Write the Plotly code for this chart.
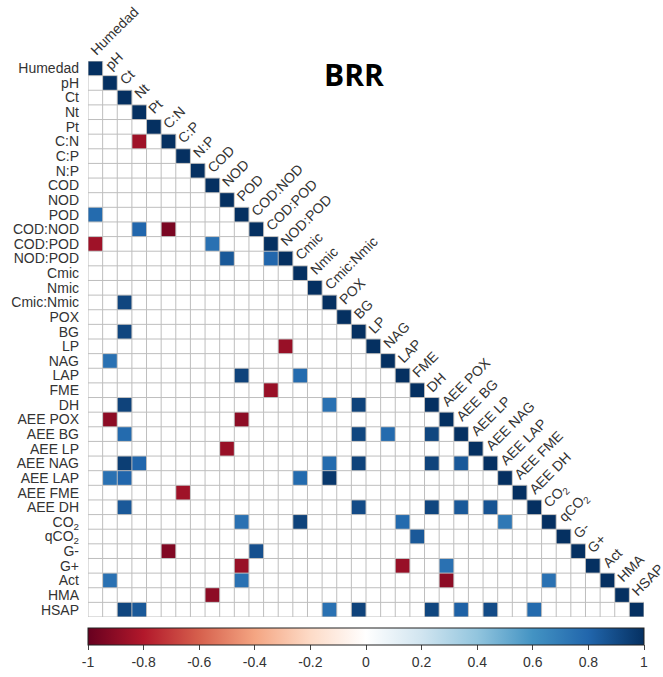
import plotly.graph_objects as go

labels = ["Humedad", "pH", "Ct", "Nt", "Pt", "C:N", "C:P", "N:P", "COD", "NOD", "POD",
          "COD:NOD", "COD:POD", "NOD:POD", "Cmic", "Nmic", "Cmic:Nmic", "POX", "BG", "LP",
          "NAG", "LAP", "FME", "DH", "AEE POX", "AEE BG", "AEE LP", "AEE NAG", "AEE LAP",
          "AEE FME", "AEE DH", "CO<sub>2</sub>", "qCO<sub>2</sub>", "G-", "G+", "Act", "HMA", "HSAP"]

# significant correlations (row variable, column variable, r)
pair_rows = ["C:N", "POD", "COD:NOD", "COD:NOD", "COD:POD", "COD:POD", "NOD:POD", "NOD:POD",
             "Cmic:Nmic", "BG", "LP", "NAG", "LAP", "LAP", "FME", "DH", "DH", "DH",
             "AEE POX", "AEE POX", "AEE BG", "AEE BG", "AEE BG", "AEE BG", "AEE LP",
             "AEE NAG", "AEE NAG", "AEE NAG", "AEE NAG", "AEE NAG", "AEE NAG",
             "AEE LAP", "AEE LAP", "AEE LAP", "AEE LAP", "AEE FME",
             "AEE DH", "AEE DH", "AEE DH", "AEE DH", "AEE DH",
             "CO<sub>2</sub>", "CO<sub>2</sub>", "CO<sub>2</sub>", "CO<sub>2</sub>",
             "qCO<sub>2</sub>", "G-", "G-", "G+", "G+", "G+",
             "Act", "Act", "Act", "Act", "HMA",
             "HSAP", "HSAP", "HSAP", "HSAP", "HSAP", "HSAP", "HSAP", "HSAP"]
pair_cols = ["Nt", "Humedad", "Nt", "C:N", "Humedad", "COD", "NOD", "COD:POD",
             "Ct", "Ct", "NOD:POD", "pH", "POD", "Cmic", "COD:POD", "Ct", "Cmic:Nmic", "BG",
             "pH", "POD", "Ct", "BG", "NAG", "DH", "NOD",
             "Ct", "Nt", "Cmic:Nmic", "BG", "DH", "AEE BG",
             "pH", "Ct", "Cmic", "Cmic:Nmic", "C:P",
             "Ct", "BG", "DH", "AEE BG", "AEE NAG",
             "POD", "Cmic", "LAP", "AEE LAP",
             "FME", "C:N", "COD:NOD", "POD", "LAP", "AEE POX",
             "pH", "POD", "AEE POX", "CO<sub>2</sub>", "COD",
             "Ct", "Nt", "Cmic:Nmic", "BG", "DH", "AEE BG", "AEE NAG", "AEE DH"]
pair_r = [-0.85, 0.78, 0.8, -0.95, -0.85, 0.75, 0.85, 0.8,
          0.92, 0.92, -0.87, 0.75, 0.93, 0.78, -0.87, 0.93, 0.75, 0.93,
          -0.9, -0.9, 0.78, 0.92, 0.78, 0.92, -0.87,
          0.95, 0.8, 0.78, 0.93, 0.93, 0.85,
          0.75, 0.8, 0.78, 0.97, -0.85,
          0.85, 0.9, 0.92, 0.85, 0.87,
          0.75, 0.93, 0.78, 0.72,
          0.85, -0.93, 0.88, -0.87, -0.87, 0.75,
          0.75, 0.75, -0.9, 0.75, -0.9,
          0.92, 0.85, 0.75, 0.93, 0.92, 0.82, 0.9, 0.78]

cb_vals = [-1, -0.8, -0.6, -0.4, -0.2, 0, 0.2, 0.4, 0.6, 0.8, 1]
cb_text = ["-1", "-0.8", "-0.6", "-0.4", "-0.2", "0", "0.2", "0.4", "0.6", "0.8", "1"]

n = len(labels)
idx = {l: i for i, l in enumerate(labels)}
z = [[(0.0 if c < r else 1.0) if c <= r else None for c in range(n)] for r in range(n)]
for rl, cl, v in zip(pair_rows, pair_cols, pair_r):
    z[idx[rl]][idx[cl]] = v

rdbu = ["#67001F", "#B2182B", "#D6604D", "#F4A582", "#FDDBC7", "#FFFFFF",
        "#D1E5F0", "#92C5DE", "#4393C3", "#2166AC", "#053061"]
colorscale = [[i / 10, c] for i, c in enumerate(rdbu)]

fig = go.Figure(go.Heatmap(
    z=z, x=labels, y=labels, zmin=-1, zmax=1, colorscale=colorscale,
    hoverongaps=False,
    colorbar=dict(orientation="h", x=0.5, xanchor="center", y=-0.0198, yanchor="top",
                  len=1, lenmode="fraction", thickness=17, xpad=0, ypad=0,
                  outlinewidth=1, outlinecolor="#222",
                  tickvals=cb_vals, ticktext=cb_text, ticks="outside", ticklen=5,
                  tickcolor="#444", tickfont=dict(family="Liberation Sans", size=14, color="#333")),
))

shapes = []
grid = dict(color="#BEBEBE", width=1)
for k in range(n + 1):
    # horizontal boundary above row k
    shapes.append(dict(type="line", xref="x", yref="y", x0=-0.5, x1=min(k, n - 1) + 0.5,
                       y0=k - 0.5, y1=k - 0.5, line=grid, layer="above"))
    # vertical boundary left of column k
    shapes.append(dict(type="line", xref="x", yref="y", x0=k - 0.5, x1=k - 0.5,
                       y0=max(k - 1, 0) - 0.5, y1=n - 0.5, line=grid, layer="above"))

annotations = []
for i, l in enumerate(labels):
    annotations.append(dict(x=i, y=i - 0.5, xref="x", yref="y", text=l, showarrow=False,
                            textangle=-45, xanchor="left", yanchor="bottom", xshift=-11,
                            font=dict(family="Liberation Sans", size=14, color="#333")))
annotations.append(dict(x=0.478, y=0.9766, xref="paper", yref="paper", text="<b>BRR</b>",
                        showarrow=False, xanchor="center", yanchor="middle",
                        font=dict(family="Open Sans", size=30, color="black")))

fig.update_layout(
    width=663, height=677, margin=dict(l=88, r=19, t=61, b=60, autoexpand=False),
    paper_bgcolor="white", plot_bgcolor="white",
    xaxis=dict(type="category", showticklabels=False, showgrid=False, zeroline=False,
               showline=False, ticks="", range=[-0.5, n - 0.5], autorange=False),
    yaxis=dict(type="category", range=[n - 0.5, -0.5], autorange=False,
               showgrid=False, zeroline=False,
               showline=False, ticks="", ticklabelstandoff=8,
               tickmode="array", tickvals=labels, ticktext=labels,
               tickfont=dict(family="Liberation Sans", size=14, color="#333")),
    shapes=shapes, annotations=annotations, showlegend=False,
)
fig.write_html("out.html")
